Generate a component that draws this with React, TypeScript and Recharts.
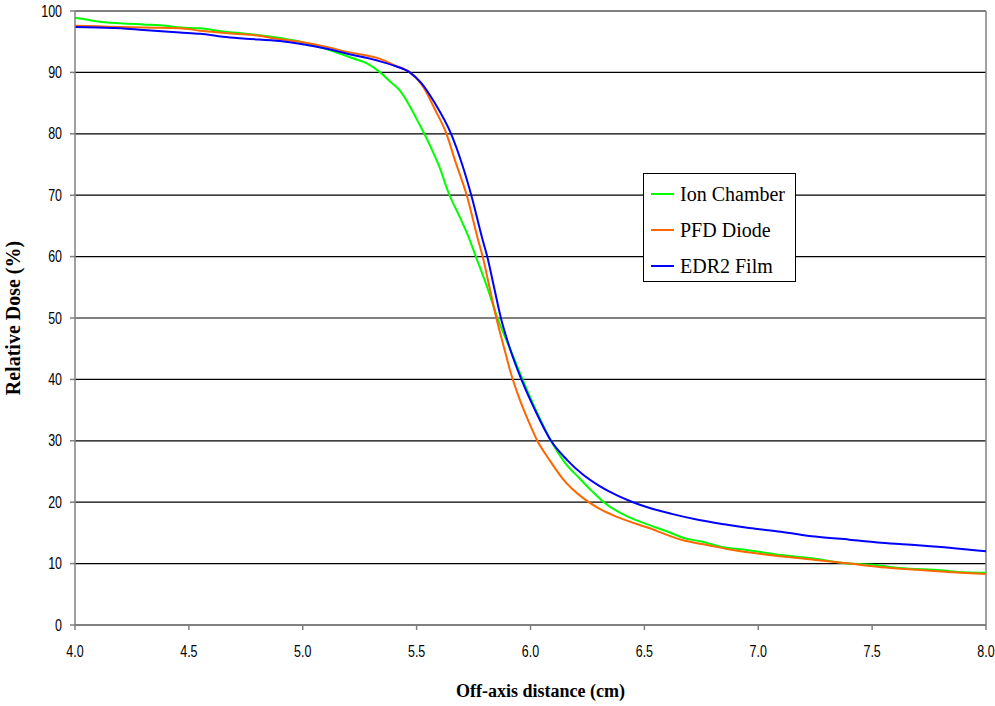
import React from 'react';
import { LineChart, Line, XAxis, YAxis, CartesianGrid, ReferenceLine } from 'recharts';

const xTicks = [4.0, 4.5, 5.0, 5.5, 6.0, 6.5, 7.0, 7.5, 8.0];
const yTicks = [0, 10, 20, 30, 40, 50, 60, 70, 80, 90, 100];

const ionX = [4.0, 4.05, 4.1, 4.2, 4.3, 4.4, 4.46, 4.55, 4.64, 4.72, 4.8, 4.9, 5.0, 5.12, 5.22, 5.28, 5.34, 5.39, 5.425, 5.47, 5.51, 5.56, 5.6, 5.64, 5.69, 5.73, 5.76, 5.81, 5.855, 5.91, 5.965, 6.03, 6.09, 6.15, 6.215, 6.27, 6.325, 6.43, 6.52, 6.61, 6.67, 6.75, 6.84, 6.95, 7.1, 7.25, 7.37, 7.5, 7.62, 7.8, 7.9, 8.0];
const ionY = [98.9, 98.6, 98.3, 98.0, 97.8, 97.6, 97.3, 97.2, 96.7, 96.4, 96.1, 95.6, 94.9, 93.6, 92.3, 91.5, 90.0, 88.3, 87.1, 84.5, 81.7, 78.0, 74.6, 70.4, 66.4, 63.0, 60.0, 55.0, 50.0, 45.0, 40.0, 34.5, 30.0, 26.5, 23.9, 21.8, 19.9, 17.6, 16.3, 15.1, 14.2, 13.6, 12.7, 12.2, 11.4, 10.8, 10.1, 9.8, 9.3, 8.9, 8.6, 8.5];

const pfdX = [4.0, 4.1, 4.2, 4.3, 4.46, 4.55, 4.7, 4.8, 4.9, 5.0, 5.1, 5.2, 5.3, 5.34, 5.4, 5.47, 5.53, 5.58, 5.63, 5.67, 5.72, 5.77, 5.79, 5.82, 5.85, 5.885, 5.91, 5.95, 5.99, 6.03, 6.083, 6.14, 6.23, 6.3, 6.38, 6.52, 6.67, 6.78, 6.89, 7.05, 7.25, 7.4, 7.54, 7.7, 7.85, 8.0];
const pfdY = [97.6, 97.5, 97.4, 97.3, 97.2, 96.8, 96.3, 96.0, 95.4, 94.9, 94.2, 93.3, 92.6, 92.2, 91.2, 90.0, 87.6, 84.0, 80.1, 75.5, 70.0, 62.7, 60.0, 55.0, 50.0, 45.0, 41.5, 37.0, 33.3, 30.0, 26.9, 23.9, 20.7, 19.0, 17.6, 15.8, 13.8, 13.0, 12.2, 11.4, 10.6, 10.0, 9.4, 9.0, 8.6, 8.3];

const edrX = [4.0, 4.1, 4.2, 4.3, 4.46, 4.55, 4.65, 4.75, 4.9, 5.0, 5.1, 5.2, 5.34, 5.4, 5.47, 5.52, 5.58, 5.65, 5.7, 5.74, 5.79, 5.81, 5.84, 5.87, 5.91, 5.96, 6.02, 6.09, 6.16, 6.23, 6.3, 6.38, 6.45, 6.52, 6.62, 6.74, 6.85, 6.96, 7.1, 7.25, 7.4, 7.54, 7.7, 7.84, 8.0];
const edrY = [97.4, 97.3, 97.2, 96.9, 96.5, 96.3, 95.8, 95.5, 95.1, 94.6, 93.9, 93.0, 91.8, 91.1, 90.0, 88.3, 85.0, 80.1, 75.0, 70.0, 62.7, 60.0, 55.0, 50.0, 45.0, 40.0, 35.0, 30.0, 26.9, 24.5, 22.7, 21.1, 20.0, 19.1, 18.1, 17.1, 16.4, 15.8, 15.2, 14.4, 13.9, 13.4, 13.0, 12.6, 12.0];

const toRows = (xs: number[], ys: number[]) => xs.map((x, i) => ({ x, y: ys[i] }));

const series = [
  { name: 'Ion Chamber', color: '#00ff00', data: toRows(ionX, ionY) },
  { name: 'PFD Diode', color: '#ff6600', data: toRows(pfdX, pfdY) },
  { name: 'EDR2 Film', color: '#0000ff', data: toRows(edrX, edrY) },
];

const tickFont = "'Liberation Sans', Arial, sans-serif";
const serif = "'Liberation Serif', 'Times New Roman', serif";

const XTick = (props: any) => {
  const { x, y, payload } = props;
  return (
    <g transform={`translate(${x},${y})`}>
      <text x={0} y={0} dy="0.71em" textAnchor="middle" fill="#000" fontSize={16} fontFamily={tickFont} transform="scale(0.78,1)">
        {Number(payload.value).toFixed(1)}
      </text>
    </g>
  );
};

const YTick = (props: any) => {
  const { x, y, payload } = props;
  return (
    <g transform={`translate(${x},${y})`}>
      <text x={0} y={0} dy="0.355em" textAnchor="end" fill="#000" fontSize={16} fontFamily={tickFont} transform="scale(0.78,1)">
        {payload.value}
      </text>
    </g>
  );
};

const LegendBox = () => (
  <div
    style={{
      position: 'absolute',
      left: 643,
      top: 173,
      width: 153,
      height: 109,
      boxSizing: 'border-box',
      border: '1px solid #000',
      background: '#fff',
      padding: '2px 0 0 7px',
      fontFamily: serif,
      fontSize: 20,
      color: '#000',
    }}
  >
    {series.map((s) => (
      <div key={s.name} style={{ display: 'flex', alignItems: 'center', height: 36 }}>
        <span style={{ display: 'inline-block', width: 23, height: 2, background: s.color, marginRight: 6 }} />
        <span>{s.name}</span>
      </div>
    ))}
  </div>
);

export default function App() {
  return (
    <div style={{ position: 'absolute', left: 0, top: 0, width: 995, height: 706, background: '#fff' }}>
      <LineChart width={995} height={706} margin={{ top: 11, right: 9, bottom: 0, left: 0 }}>
        <CartesianGrid vertical={false} stroke="#000" strokeWidth={1.2} />
        <XAxis
          type="number"
          dataKey="x"
          domain={[4, 8]}
          ticks={xTicks}
          allowDataOverflow
          height={81}
          stroke="#808080"
          strokeWidth={1.5}
          tickSize={5}
          tickMargin={16}
          tick={<XTick />}
          label={{
            value: 'Off-axis distance (cm)',
            position: 'insideBottom',
            offset: 9,
            dx: 10,
            style: { fill: '#000', fontSize: 18, fontWeight: 'bold', fontFamily: serif },
          }}
        />
        <YAxis
          type="number"
          domain={[0, 100]}
          ticks={yTicks}
          width={75}
          stroke="#808080"
          strokeWidth={1.5}
          tickSize={5}
          tickMargin={8}
          tick={<YTick />}
          label={{
            value: 'Relative Dose (%)',
            angle: -90,
            position: 'insideLeft',
            offset: 0,
            dx: 13,
            style: { fill: '#000', fontSize: 20, fontWeight: 'bold', fontFamily: serif, textAnchor: 'middle' },
          }}
        />
        <ReferenceLine x={8} stroke="#808080" strokeWidth={1.5} />
        {series.map((s) => (
          <Line
            key={s.name}
            name={s.name}
            data={s.data}
            dataKey="y"
            type="monotone"
            stroke={s.color}
            strokeWidth={2}
            dot={false}
            activeDot={false}
            isAnimationActive={false}
          />
        ))}
      </LineChart>
      <LegendBox />
    </div>
  );
}
